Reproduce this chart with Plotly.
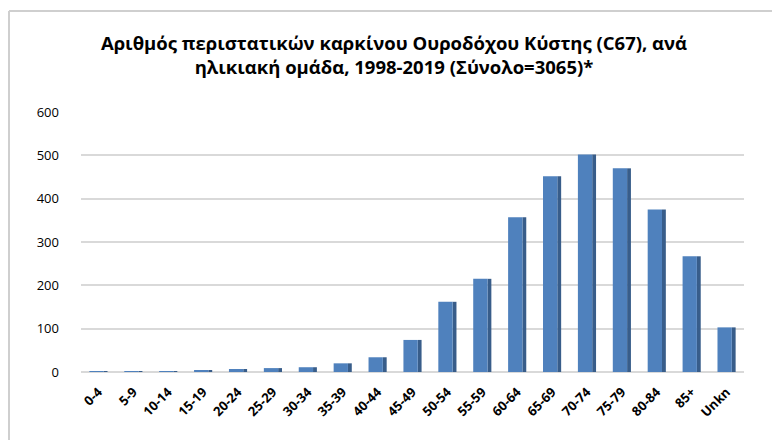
import plotly.graph_objects as go

age_groups = ['0-4', '5-9', '10-14', '15-19', '20-24', '25-29', '30-34', '35-39', '40-44',
              '45-49', '50-54', '55-59', '60-64', '65-69', '70-74', '75-79', '80-84', '85+', 'Unkn']
cases = [2, 1, 1, 3, 7, 9, 11, 20, 34, 74, 162, 215, 357, 452, 502, 470, 375, 267, 103]

title = ('Αριθμός περιστατικών καρκίνου Ουροδόχου Κύστης (C67), ανά<br>'
         'ηλικιακή ομάδα, 1998-2019 (Σύνολο=3065)*')

fig = go.Figure()

# darker side face for the pseudo-3D look
fig.add_trace(go.Bar(x=age_groups, y=cases, width=0.11, offset=0.15,
                     marker=dict(color='#385D8A', line=dict(width=0)), hoverinfo='skip'))
# front face
fig.add_trace(go.Bar(x=age_groups, y=cases, width=0.41, offset=-0.26,
                     marker=dict(color='#4F81BD', line=dict(width=0))))

# page body has an 8px margin, so the figure is a bit smaller than the window
W, H = 772, 432
l, r, t, b = 73, 36, 104, 68
w, h = W - l - r, H - t - b

# outer chart frame: only its top and left edges fall inside the window
frame_x = (1 - l) / w
frame_y = (H - b - 3) / h
fig.add_shape(type='line', xref='paper', yref='paper', x0=frame_x, x1=(W - l) / w,
              y0=frame_y, y1=frame_y, line=dict(color='#CFCFCF', width=2))
fig.add_shape(type='line', xref='paper', yref='paper', x0=frame_x, x1=frame_x,
              y0=-b / h, y1=frame_y, line=dict(color='#CFCFCF', width=2))

fig.update_layout(
    width=W, height=H,
    margin=dict(l=l, r=r, t=t, b=b),
    paper_bgcolor='white', plot_bgcolor='white',
    showlegend=False, barmode='overlay',
    title=dict(text=title, x=0.5, xref='container', xanchor='center', y=0.903, yanchor='top',
               font=dict(family='Open Sans', size=18.5, color='black', weight='bold')),
    font=dict(family='Open Sans', color='black'),
    xaxis=dict(range=[-0.5, 18.5], tickangle=-45, showgrid=False, showline=False,
               tickfont=dict(size=13, weight='bold'), ticks='', ticklabelstandoff=9),
    yaxis=dict(range=[0, 600], dtick=100, showgrid=True, gridcolor='#D9D9D9', gridwidth=1.5,
               zeroline=True, zerolinecolor='#D9D9D9', zerolinewidth=1.5,
               tickfont=dict(size=13), ticklabelstandoff=21),
)

fig.write_html("out.html")
